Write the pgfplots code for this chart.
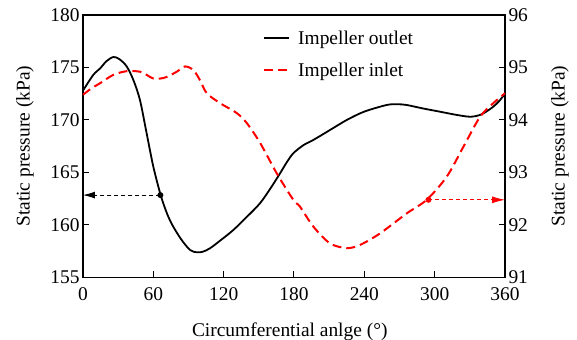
\documentclass[border=0pt]{standalone}
\usepackage{fontspec}
\setmainfont{Liberation Serif}
\usepackage{pgfplots}
\pgfplotsset{compat=1.18}
\usetikzlibrary{arrows.meta}
\begin{document}
\begin{tikzpicture}[font=\fontsize{19.5}{23}\selectfont]
\useasboundingbox (-83bp,-62.5bp) rectangle (494bp,277.5bp);
\pgfplotsset{every axis/.append style={
  scale only axis, width=422bp, height=262.5bp, at={(0,0)}, anchor=south west,
  xmin=0, xmax=360, clip=false,
  tick align=inside, major tick length=6bp,
  /pgf/number format/assume math mode=true,
  tick label style={font=\fontsize{19.5}{23}\selectfont},
  label style={font=\fontsize{19.5}{23}\selectfont},
  axis line style={line width=1.2bp},
  every tick/.style={line width=1bp, black},
}}
\begin{axis}[
  ymin=155, ymax=180, ytick={155,160,...,180},
  xtick={0,60,...,360}, xtick pos=bottom, ytick pos=left,
  xticklabel style={yshift=-7bp},
  xlabel={Circumferential anlge (°)},
  ylabel={Static pressure (kPa)},
  x label style={at={(axis description cs:0.49,-0.205)}, anchor=center},
  y label style={at={(axis description cs:-0.1374,0.5)}, anchor=center},
]
\addplot[black, line width=1.8bp, smooth, tension=0.5] coordinates {
(0,172.8) (8.8,174.3) (14.5,174.9) (20,175.6) (25.9,176.0) (31,175.8) (37.3,175.1) (43,173.8) (48.6,171.9) (54,168.9) (60.0,165.55) (66.5,162.76) (72,161.0) (77.0,159.84) (84,158.6) (91.3,157.62) (97.0,157.4) (102,157.45) (108.3,157.78) (118,158.6) (128.2,159.52) (140,160.8) (151.0,162.07) (160,163.5) (168.1,164.92) (174,166.0) (179.4,166.83) (188,167.6) (196.5,168.1) (210,169.0) (225.0,170.0) (240,170.8) (259.1,171.43) (268,171.5) (276.1,171.43) (290,171.1) (304.6,170.79) (318,170.5) (330.2,170.31) (338.7,170.48) (344,170.8) (350.0,171.27) (355,171.8) (360,172.5)
};
\addplot[black, line width=0.9bp, dash pattern=on 4bp off 3bp, -{Latex[length=12bp,width=7bp]}, mark=*, mark indices={1}, mark size=2.5bp, mark options={solid}] coordinates {(66,162.85) (0,162.85)};
\end{axis}
\begin{axis}[
  ymin=91, ymax=96, ytick={91,...,96},
  hide x axis, ytick pos=right, yticklabel pos=right,
  ylabel={Static pressure (kPa)},
  y label style={at={(axis description cs:1.1303,0.5)}, anchor=center},
  legend style={draw=none, fill=none, at={(axis description cs:0.4194,0.948)}, anchor=north west,
    row sep=17bp, column sep=8bp, nodes={inner sep=0pt}, font=\fontsize{19.5}{23}\selectfont},
  legend cell align=left,
  legend image code/.code={\draw[#1] (0bp,0bp) -- (25bp,0bp);},
]
\addlegendimage{black, line width=1.8bp}
\addlegendentry{Impeller outlet}
\addplot[red, line width=2bp, dash pattern=on 9bp off 5bp, smooth, tension=0.5] coordinates {
(0,94.48) (7,94.6) (14.5,94.70) (25.9,94.86) (37.3,94.93) (48.6,94.92) (55,94.85) (60.0,94.79) (66,94.79) (71.4,94.82) (80.0,94.92) (87.0,95.02) (94.2,94.95) (100,94.75) (105.6,94.51) (117.0,94.32) (131.3,94.13) (139.8,93.94) (151.2,93.56) (165.4,92.98) (179.4,92.48) (185.1,92.35) (196.5,91.97) (210.7,91.65) (225.0,91.56) (236.3,91.62) (253.4,91.84) (276.1,92.22) (293.2,92.48) (310.3,92.92) (324.5,93.49) (338.7,94.06) (350.0,94.32) (360,94.51)
};
\addlegendentry{Impeller inlet}
\addplot[red, line width=0.9bp, dash pattern=on 4bp off 3bp, -{Latex[length=13bp,width=7bp]}, mark=*, mark indices={1}, mark size=2.5bp, mark options={solid}, forget plot] coordinates {(294.7,92.48) (360,92.48)};
\end{axis}
\end{tikzpicture}
\end{document}
